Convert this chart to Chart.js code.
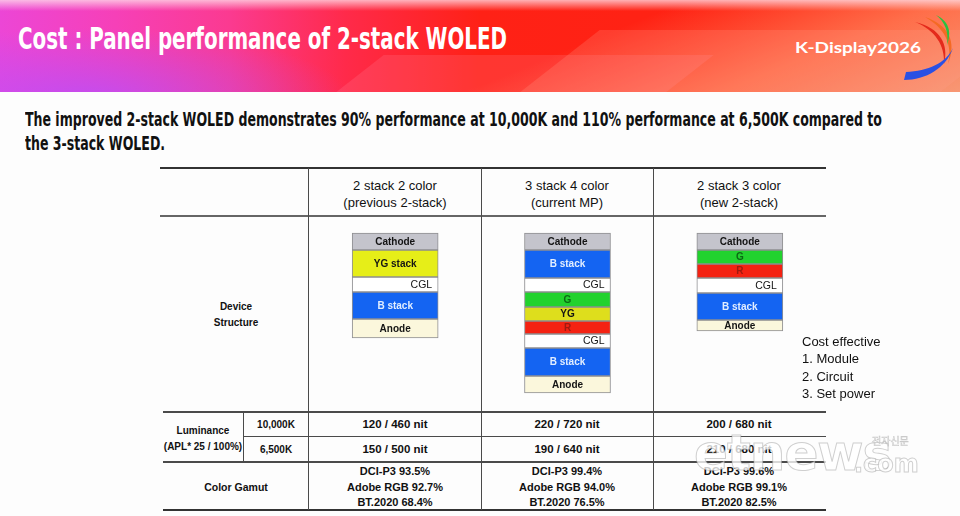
<!DOCTYPE html>
<html>
<head>
<meta charset="utf-8">
<script src="https://cdn.jsdelivr.net/npm/chart.js@4.4.1/dist/chart.umd.min.js"></script>
<style>
  html,body{margin:0;padding:0;}
  body{width:960px;height:516px;overflow:hidden;position:relative;background:#fdfdfd;font-family:"Liberation Sans",Arial,sans-serif;color:#111;}
  .abs{position:absolute;}
  #banner{left:0;top:0;width:960px;height:92px;
    background:
      linear-gradient(180deg, rgba(255,225,235,0.75) 0px, rgba(255,225,235,0) 11px),
      linear-gradient(158deg, rgba(255,255,255,0) 58%, rgba(255,170,120,0.55) 80%, rgba(245,190,150,0.75) 100%),
      radial-gradient(ellipse 260px 70px at 90px 98px, rgba(180,80,255,0.75), rgba(180,80,255,0) 100%),
      linear-gradient(90deg, #ec46d6 0%, #f640b8 12%, #fb3a90 24%, #ff2a4a 36%, #ff2116 50%, #ff2410 100%);}
  #banner .band{position:absolute;background:rgba(255,150,170,0.18);transform:skewX(-52deg);}
  .narrow{font-family:"Liberation Sans Narrow","Arial Narrow","DejaVu Sans Condensed",sans-serif;font-weight:bold;white-space:nowrap;display:inline-block;transform-origin:0 50%;}
  .hl{position:absolute;background:#444;}
  .c{position:absolute;text-align:center;white-space:nowrap;transform:translateX(-50%);}
  .b{font-weight:bold;}
</style>
</head>
<body>
<div id="banner" class="abs">
  <div class="band" style="left:360px;top:55px;width:330px;height:37px;"></div>
  <div class="band" style="left:560px;top:30px;width:420px;height:62px;background:rgba(255,160,140,0.22)"></div>
</div>
<div id="title" class="abs narrow" style="left:18px;top:24px;font-size:30px;line-height:30px;color:#fff;"></div>
<div id="logoText" class="abs" style="left:795px;top:39px;font-family:Lato,Inter,sans-serif;font-size:16px;line-height:16px;color:#fff;white-space:nowrap;transform-origin:0 50%;display:inline-block;font-weight:bold;"></div>
<svg class="abs" style="left:0;top:0;" width="960" height="95" viewBox="0 0 960 95">
  <path d="M915 22 C935 30 945 45 944 64 C949 45 941 28 915 22 Z" fill="#e42a1c"/>
  <path d="M925 17 C945 28 953 45 948 64 C957 42 949 25 925 17 Z" fill="#f46a24"/>
  <path d="M936 15 C945 22 949 32 947 45 C952 32 949 21 936 15 Z" fill="#2cc040"/>
  <path d="M904 80 C926 80 946 68 953 48 C946 63 928 71 906 72 Z" fill="#2a50e4"/>
</svg>

<div id="sub1" class="abs narrow" style="left:25px;top:110px;font-size:19px;line-height:19px;"></div>
<div id="sub2" class="abs narrow" style="left:25px;top:134px;font-size:19px;line-height:19px;"></div>

<div id="table"></div>
<canvas id="stacks" class="abs" width="517" height="196" style="left:309px;top:216px;width:517px;height:196px;"></canvas>
<div id="cost"></div>
<div id="wm" class="abs" style="left:694px;top:428px;font-family:'DejaVu Sans',sans-serif;font-weight:bold;font-size:50px;line-height:50px;color:rgba(255,255,255,0.78);-webkit-text-stroke:1px rgba(150,150,150,0.45);letter-spacing:-1px;">etnews</div>
<div class="abs" style="left:854px;top:452px;font-family:'DejaVu Sans',sans-serif;font-weight:bold;font-size:24px;line-height:24px;color:rgba(255,255,255,0.78);-webkit-text-stroke:1px rgba(150,150,150,0.45);">.com</div>
<div class="abs" style="left:872px;top:436px;font-family:'Noto Sans CJK KR',sans-serif;font-size:10px;line-height:10px;color:rgba(255,255,255,0.7);-webkit-text-stroke:0.6px rgba(150,150,150,0.5);">전자신문</div>

<script>
// ---------- data ----------
const titleText = 'Cost : Panel performance of 2-stack WOLED';
const logoText = 'K-Display2026';
const subtitleLines = [
  'The improved 2-stack WOLED demonstrates 90% performance at 10,000K and 110% performance at 6,500K compared to',
  'the 3-stack WOLED.'
];
const stackNames = ['2 stack 2 color', '3 stack 4 color', '2 stack 3 color'];
const stackSubtitles = ['(previous 2-stack)', '(current MP)', '(new 2-stack)'];
const rowLabelDevice = ['Device', 'Structure'];
const layers2s2c = ['Cathode', 'YG stack', 'CGL', 'B stack', 'Anode'];
const thick2s2c  = [17, 27, 15, 27, 19];
const layers3s4c = ['Cathode', 'B stack', 'CGL', 'G', 'YG', 'R', 'CGL', 'B stack', 'Anode'];
const thick3s4c  = [17, 28, 14, 15, 14, 13, 14, 28, 17];
const layers2s3c = ['Cathode', 'G', 'R', 'CGL', 'B stack', 'Anode'];
const thick2s3c  = [17, 14, 14, 15, 27, 11];
const luminanceLabel = ['Luminance', '(APL* 25 / 100%)'];
const colorTemps = ['10,000K', '6,500K'];
const lum10000K = ['120 / 460 nit', '220 / 720 nit', '200 / 680 nit'];
const lum6500K  = ['150 / 500 nit', '190 / 640 nit', '210 / 680 nit'];
const gamutLabel = 'Color Gamut';
const dciP3    = ['93.5', '99.4', '99.6'];
const adobeRGB = ['92.7', '94.0', '99.1'];
const bt2020   = ['68.4', '76.5', '82.5'];
const costItems = ['Cost effective', '1. Module', '2. Circuit', '3. Set power'];

// ---------- header texts ----------
function fit(el, w){
  el.style.transform = 'none';
  const r = el.getBoundingClientRect().width;
  const s = w / r;
  el.style.transform = 'scaleX(' + s + ')';
  return s;
}
const tEl = document.getElementById('title'); tEl.textContent = titleText; fit(tEl, 489);
const lEl = document.getElementById('logoText'); lEl.textContent = logoText; fit(lEl, 126);
const s1 = document.getElementById('sub1'); s1.textContent = subtitleLines[0];
const s2 = document.getElementById('sub2'); s2.textContent = subtitleLines[1];
const sc = fit(s1, 857); s2.style.transform = 'scaleX(' + sc + ')';

// ---------- table ----------
const T = document.getElementById('table');
function hline(x1, x2, y, h, col){ const d=document.createElement('div'); d.className='hl'; d.style.cssText=`left:${x1}px;top:${y}px;width:${x2-x1}px;height:${h}px;background:${col||'#4a4a4a'}`; T.appendChild(d); }
function vline(x, y1, y2, w){ const d=document.createElement('div'); d.className='hl'; d.style.cssText=`left:${x}px;top:${y1}px;width:${w||1}px;height:${y2-y1}px;background:#4a4a4a`; T.appendChild(d); }
function txt(s, cx, cy, size, bold, parent){ const d=document.createElement('div'); d.className='c'+(bold?' b':''); d.style.cssText+=`left:${cx}px;top:${cy-size/2}px;font-size:${size}px;line-height:${size}px;`; d.textContent=s; (parent||T).appendChild(d); return d; }

hline(160, 826, 167, 2, '#333');
hline(160, 826, 215, 1.5, '#666');
hline(163, 826, 411, 1.5);
hline(243, 826, 436, 1.2);
hline(163, 826, 461, 1.5);
hline(163, 826, 509, 2, '#333');
vline(308, 168, 510, 1.2);
vline(481, 168, 510, 1.2);
vline(653, 168, 510, 1.2);
vline(243, 412, 462, 1.2);

const colCenters = [395, 567, 739];
stackNames.forEach((n,i)=>{ txt(n, colCenters[i], 185, 13, false); txt(stackSubtitles[i], colCenters[i], 202, 13, false); });
txt(rowLabelDevice[0], 236, 307, 10, true);
txt(rowLabelDevice[1], 236, 323, 10, true);
txt(luminanceLabel[0], 203, 431, 10, true);
txt(luminanceLabel[1], 203, 447, 10, true);
txt(colorTemps[0], 276, 425, 10, true);
txt(colorTemps[1], 276, 450, 10, true);
lum10000K.forEach((v,i)=>txt(v, colCenters[i], 425, 11.5, true));
lum6500K.forEach((v,i)=>txt(v, colCenters[i], 450, 11.5, true));
txt(gamutLabel, 236, 487, 10.5, true);
colCenters.forEach((cx,i)=>{
  txt('DCI-P3 ' + dciP3[i] + '%', cx, 471, 11, true);
  txt('Adobe RGB ' + adobeRGB[i] + '%', cx, 487, 11, true);
  txt('BT.2020 ' + bt2020[i] + '%', cx, 502, 11, true);
});
const C = document.getElementById('cost');
costItems.forEach((s,i)=>{ const d=document.createElement('div'); d.className='abs'; d.style.cssText=`left:802px;top:${342+i*17.3-7}px;font-size:13px;line-height:14px;white-space:nowrap;`; d.textContent=s; C.appendChild(d); });

// ---------- stacks chart ----------
const layerFill = {'Cathode':'#c4c4cc','YG stack':'#e6ee18','YG':'#dede1c','CGL':'#ffffff','B stack':'#1464f2','Anode':'#fbf7dc','G':'#22d22e','R':'#f42212'};
const layerText = {'B stack':'#e2eeff','G':'#0b6a14','R':'#a01a10'};
const stackLayers = [layers2s2c, layers3s4c, layers2s3c];
const stackThick = [thick2s2c, thick3s4c, thick2s3c];
const maxLayers = Math.max(...stackLayers.map(l=>l.length));
const ranges = stackThick.map(t=>{ let acc=0; return t.map(v=>{ const r=[acc, acc+v]; acc+=v; return r; }); });
const datasets = [];
for(let i=0;i<maxLayers;i++){
  datasets.push({
    data: stackLayers.map((l,c)=> i<l.length ? ranges[c][i] : null),
    layerNames: stackLayers.map(l=> l[i] || null),
    backgroundColor: stackLayers.map(l=> layerFill[l[i]] || 'transparent'),
    borderColor: 'rgba(105,105,110,0.75)',
    borderWidth: 1,
    borderSkipped: false,
    grouped: false,
    barThickness: 86
  });
}
const layerLabels = {
  id:'layerLabels',
  afterDatasetsDraw(chart){
    const ctx = chart.ctx;
    chart.data.datasets.forEach((ds,di)=>{
      const meta = chart.getDatasetMeta(di);
      meta.data.forEach((bar,ci)=>{
        const name = ds.layerNames[ci];
        if(!name) return;
        const p = bar.getProps(['x','y','base','width'], true);
        const cy = (p.y + p.base)/2 + 0.5;
        ctx.save();
        ctx.font = 'bold 10px "Liberation Sans", Arial, sans-serif';
        ctx.fillStyle = layerText[name] || '#141414';
        ctx.textBaseline = 'middle';
        if(name === 'CGL'){ ctx.textAlign='right'; ctx.font='10.5px "Liberation Sans", Arial, sans-serif'; ctx.fillText(name, p.x + p.width/2 - 6, cy); }
        else { ctx.textAlign='center'; ctx.fillText(name, p.x, cy); }
        ctx.restore();
      });
    });
  }
};
new Chart(document.getElementById('stacks'), {
  type:'bar',
  data:{ labels: stackNames, datasets },
  options:{
    responsive:false, animation:false, maintainAspectRatio:false,
    layout:{ padding:0 },
    plugins:{ legend:{display:false}, tooltip:{enabled:false} },
    scales:{
      x:{ display:false, offset:true },
      y:{ display:false, reverse:true, min:-17, max:179 }
    }
  },
  plugins:[layerLabels]
});
</script>
</body>
</html>
